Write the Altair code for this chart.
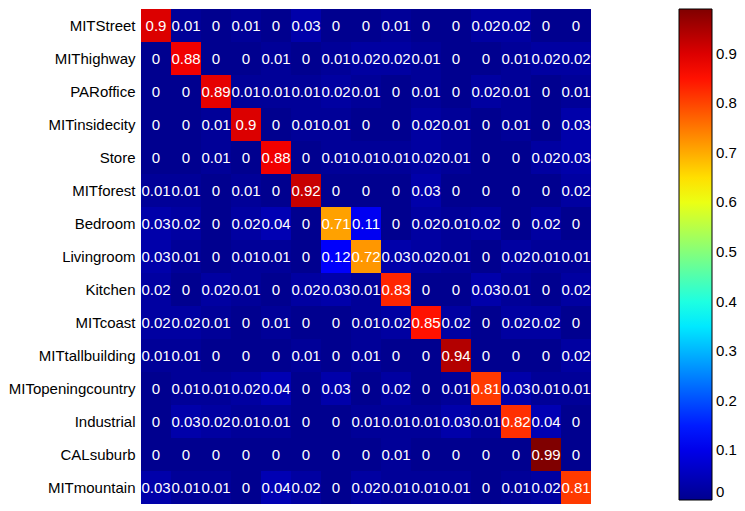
import altair as alt
import pandas as pd

classes = ["MITStreet", "MIThighway", "PARoffice", "MITinsidecity", "Store",
           "MITforest", "Bedroom", "Livingroom", "Kitchen", "MITcoast",
           "MITtallbuilding", "MITopeningcountry", "Industrial", "CALsuburb",
           "MITmountain"]

row_MITStreet = [0.9, 0.01, 0, 0.01, 0, 0.03, 0, 0, 0.01, 0, 0, 0.02, 0.02, 0, 0]
row_MIThighway = [0, 0.88, 0, 0, 0.01, 0, 0.01, 0.02, 0.02, 0.01, 0, 0, 0.01, 0.02, 0.02]
row_PARoffice = [0, 0, 0.89, 0.01, 0.01, 0.01, 0.02, 0.01, 0, 0.01, 0, 0.02, 0.01, 0, 0.01]
row_MITinsidecity = [0, 0, 0.01, 0.9, 0, 0.01, 0.01, 0, 0, 0.02, 0.01, 0, 0.01, 0, 0.03]
row_Store = [0, 0, 0.01, 0, 0.88, 0, 0.01, 0.01, 0.01, 0.02, 0.01, 0, 0, 0.02, 0.03]
row_MITforest = [0.01, 0.01, 0, 0.01, 0, 0.92, 0, 0, 0, 0.03, 0, 0, 0, 0, 0.02]
row_Bedroom = [0.03, 0.02, 0, 0.02, 0.04, 0, 0.71, 0.11, 0, 0.02, 0.01, 0.02, 0, 0.02, 0]
row_Livingroom = [0.03, 0.01, 0, 0.01, 0.01, 0, 0.12, 0.72, 0.03, 0.02, 0.01, 0, 0.02, 0.01, 0.01]
row_Kitchen = [0.02, 0, 0.02, 0.01, 0, 0.02, 0.03, 0.01, 0.83, 0, 0, 0.03, 0.01, 0, 0.02]
row_MITcoast = [0.02, 0.02, 0.01, 0, 0.01, 0, 0, 0.01, 0.02, 0.85, 0.02, 0, 0.02, 0.02, 0]
row_MITtallbuilding = [0.01, 0.01, 0, 0, 0, 0.01, 0, 0.01, 0, 0, 0.94, 0, 0, 0, 0.02]
row_MITopeningcountry = [0, 0.01, 0.01, 0.02, 0.04, 0, 0.03, 0, 0.02, 0, 0.01, 0.81, 0.03, 0.01, 0.01]
row_Industrial = [0, 0.03, 0.02, 0.01, 0.01, 0, 0, 0.01, 0.01, 0.01, 0.03, 0.01, 0.82, 0.04, 0]
row_CALsuburb = [0, 0, 0, 0, 0, 0, 0, 0, 0.01, 0, 0, 0, 0, 0.99, 0]
row_MITmountain = [0.03, 0.01, 0.01, 0, 0.04, 0.02, 0, 0.02, 0.01, 0.01, 0.01, 0, 0.01, 0.02, 0.81]

rows = [row_MITStreet, row_MIThighway, row_PARoffice, row_MITinsidecity, row_Store,
        row_MITforest, row_Bedroom, row_Livingroom, row_Kitchen, row_MITcoast,
        row_MITtallbuilding, row_MITopeningcountry, row_Industrial, row_CALsuburb,
        row_MITmountain]

colorbar_ticks = [0, 0.1, 0.2, 0.3, 0.4, 0.5, 0.6, 0.7, 0.8, 0.9]

# MATLAB "jet" colormap anchors
jet_domain = [0, 0.124, 0.371, 0.619, 0.866, 0.99]
jet_range = ["#00008f", "#0000ff", "#00ffff", "#ffff00", "#ff0000", "#800000"]

records = []
for i, r in enumerate(rows):
    for j, v in enumerate(r):
        records.append({"actual": classes[i], "predicted": classes[j], "value": v})
df = pd.DataFrame(records)

FONT = "Liberation Sans"

jet = alt.Scale(domain=jet_domain, range=jet_range, interpolate="rgb")

base = alt.Chart(df).encode(
    x=alt.X("predicted:N", sort=classes, axis=None),
    y=alt.Y("actual:N", sort=classes, title=None,
            axis=alt.Axis(ticks=False, domain=False, labelFont=FONT,
                          labelFontSize=15, labelColor="black", labelPadding=6)),
)

rects = base.mark_rect(strokeWidth=0).encode(
    color=alt.Color("value:Q", scale=jet,
                    legend=alt.Legend(type="gradient", title=None, orient="none",
                                      legendX=538, legendY=0,
                                      gradientLength=491, gradientThickness=33,
                                      gradientStrokeColor="black", gradientStrokeWidth=1,
                                      values=colorbar_ticks, format=".1~f",
                                      labelFont=FONT, labelFontSize=15,
                                      labelColor="black", labelOffset=4,
                                      labelLimit=60, direction="vertical")),
)

texts = base.mark_text(color="white", font=FONT, fontSize=15).encode(
    text=alt.Text("value:Q", format=".2~f"),
)

chart = (rects + texts).properties(
    width=450, height=495,
    autosize=alt.AutoSizeParams(type="none"),
    padding={"left": 133, "top": 1, "right": 146, "bottom": 0},
).configure_view(strokeWidth=0).configure_scale(bandPaddingInner=0, bandPaddingOuter=0)

chart.save("out.html", embed_options={"renderer": "svg", "actions": False})
